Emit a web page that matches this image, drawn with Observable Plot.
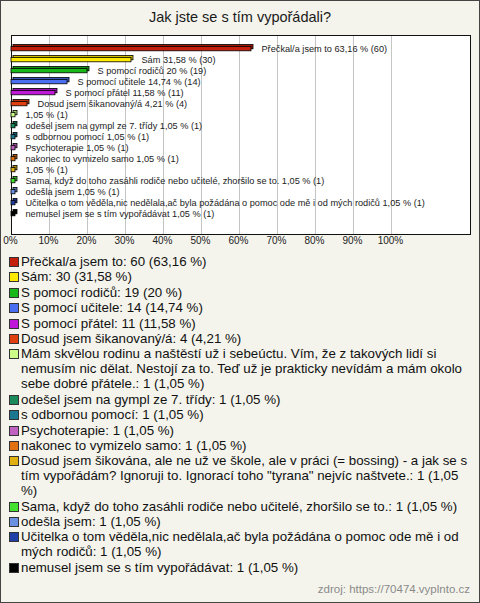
<!DOCTYPE html>
<html>
<head>
<meta charset="utf-8">
<script src="https://cdn.jsdelivr.net/npm/d3@7"></script>
<script src="https://cdn.jsdelivr.net/npm/@observablehq/plot@0.6"></script>
<style>
  html, body { margin: 0; padding: 0; }
  body { width: 480px; height: 603px; background: #f4f4ec; font-family: Arial, "Liberation Sans", sans-serif; position: relative; overflow: hidden; }
  #border { position: absolute; left: 0; top: 0; width: 480px; height: 603px; box-sizing: border-box; border: 1px solid #444; pointer-events: none; }
  #title { position: absolute; left: 0; top: 9px; width: 480px; text-align: center; font-size: 14.5px; color: #1a1a1a; }
  #chart { position: absolute; left: 0; top: 30px; }
  #legend { position: absolute; left: 9px; top: 254px; width: 461px; font-size: 13.3px; color: #111; }
  .item { display: flex; align-items: flex-start; line-height: 15px; margin-bottom: 0.4px; }
  .sw { flex: 0 0 auto; width: 8px; height: 8px; border: 1px solid #333; margin: 3px 2px 0 0; }
  .txt { flex: 1 1 auto; }
  #source { position: absolute; right: 10px; top: 583px; font-size: 11.5px; color: #8a8a8a; }
</style>
</head>
<body>
<div id="title">Jak jste se s tím vypořádali?</div>
<div id="chart"></div>
<div id="legend"></div>
<div id="source">zdroj: https://70474.vyplnto.cz</div>
<div id="border"></div>
<script>
const categories = [
  "Přečkal/a jsem to",
  "Sám",
  "S pomocí rodičů",
  "S pomocí učitele",
  "S pomocí přátel",
  "Dosud jsem šikanovaný/á",
  "Mám skvělou rodinu a naštěstí už i sebeúctu. Vím, že z takových lidí si nemusím nic dělat. Nestojí za to. Teď už je prakticky nevídám a mám okolo sebe dobré přátele.",
  "odešel jsem na gympl ze 7. třídy",
  "s odbornou pomocí",
  "Psychoterapie",
  "nakonec to vymizelo samo",
  "Dosud jsem šikována, ale ne už ve škole, ale v práci (= bossing) - a jak se s tím vypořádám? Ignoruji to. Ignorací toho \"tyrana\" nejvíc naštvete.",
  "Sama, když do toho zasáhli rodiče nebo učitelé, zhoršilo se to.",
  "odešla jsem",
  "Učitelka o tom věděla,nic nedělala,ač byla požádána o pomoc ode mě i od mých rodičů",
  "nemusel jsem se s tím vypořádávat"
];
const barNames = [
  "Přečkal/a jsem to",
  "Sám",
  "S pomocí rodičů",
  "S pomocí učitele",
  "S pomocí přátel",
  "Dosud jsem šikanovaný/á",
  "",
  "odešel jsem na gympl ze 7. třídy",
  "s odbornou pomocí",
  "Psychoterapie",
  "nakonec to vymizelo samo",
  "",
  "Sama, když do toho zasáhli rodiče nebo učitelé, zhoršilo se to.",
  "odešla jsem",
  "Učitelka o tom věděla,nic nedělala,ač byla požádána o pomoc ode mě i od mých rodičů",
  "nemusel jsem se s tím vypořádávat"
];
const counts = [60, 30, 19, 14, 11, 4, 1, 1, 1, 1, 1, 1, 1, 1, 1, 1];
const percents = [63.16, 31.58, 20, 14.74, 11.58, 4.21, 1.05, 1.05, 1.05, 1.05, 1.05, 1.05, 1.05, 1.05, 1.05, 1.05];
const colors = [
  "#c41e0c", "#ffea00", "#18b818", "#4a6ef0", "#c018d8", "#e04010",
  "#ccff88", "#1a8a5a", "#1a7890", "#c060c0", "#e07010", "#e0b010",
  "#44e030", "#6a90e0", "#2040a8", "#000000"
];
const xTicks = [0, 10, 20, 30, 40, 50, 60, 70, 80, 90, 100];

const fmt = v => String(v).replace(".", ",");
const rows = categories.map((c, i) => ({
  i,
  cat: c,
  count: counts[i],
  pct: percents[i],
  color: colors[i],
  back: d3.color(colors[i]).darker(0.6).formatHex(),
  label: (barNames[i] ? barNames[i] + " " : "") + fmt(percents[i]) + " % (" + counts[i] + ")"
}));

const plot = Plot.plot({
  width: 480,
  height: 225,
  marginLeft: 11,
  marginRight: 10,
  marginTop: 5,
  marginBottom: 21,
  style: { background: "transparent", fontFamily: "Arial, 'Liberation Sans', sans-serif" },
  x: { domain: [0, 120.8] },
  y: { type: "band", domain: rows.map(d => d.i), range: [5.75, 196.15], padding: 0, axis: null },
  color: { type: "identity" },
  marks: [
    Plot.frame({ fill: "white", stroke: "none" }),
    Plot.ruleX(xTicks.slice(1), { stroke: "#c4c4c4", strokeWidth: 1 }),
    Plot.frame({ stroke: "#111" }),
    Plot.barX(rows, { x: "pct", y: "i", fill: "back", stroke: "#000", strokeWidth: 0.8, insetTop: 3.4, insetBottom: 3.2, dx: 2, dy: -2 }),
    Plot.barX(rows, { x: "pct", y: "i", fill: "color", stroke: "#000", strokeWidth: 0.8, insetTop: 3.4, insetBottom: 3.2 }),
    Plot.text(rows, { x: "pct", y: "i", text: "label", dx: 10, textAnchor: "start", fontSize: 9.2, fill: "#222" }),
    Plot.axisX({ ticks: xTicks, tickSize: 0, tickPadding: 2.5, tickFormat: d => d + "%", label: null, fontSize: 10, color: "#222", dx: -1 })
  ]
});
document.getElementById("chart").appendChild(plot);

const legend = document.getElementById("legend");
rows.forEach(d => {
  const item = document.createElement("div");
  item.className = "item";
  const sw = document.createElement("div");
  sw.className = "sw";
  sw.style.background = d.color;
  const t = document.createElement("div");
  t.className = "txt";
  t.textContent = d.cat + ": " + d.count + " (" + fmt(d.pct) + " %)";
  item.appendChild(sw);
  item.appendChild(t);
  legend.appendChild(item);
});
</script>
</body>
</html>
